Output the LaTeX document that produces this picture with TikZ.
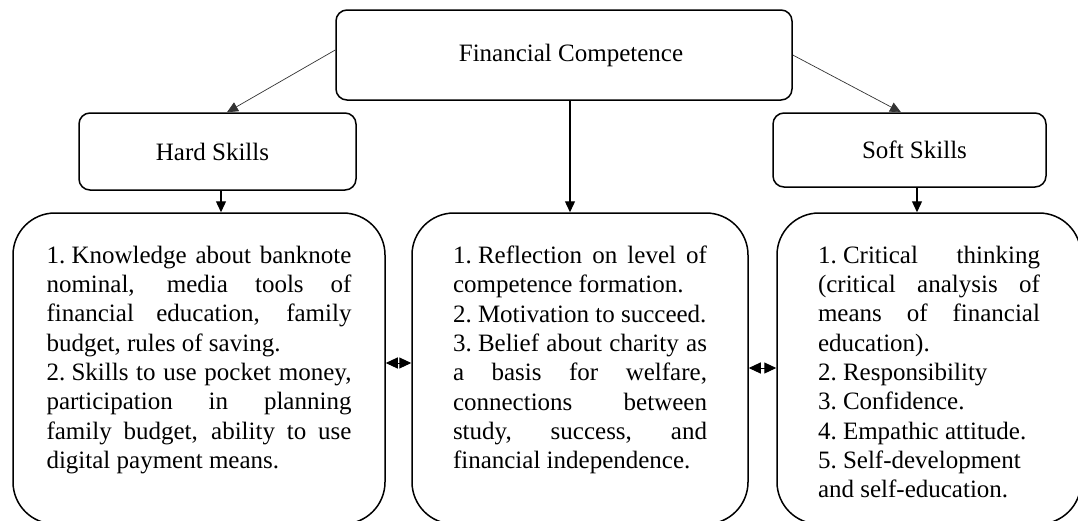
\documentclass[tikz,border=0pt]{standalone}
\usepackage{fontspec}
\setmainfont{Liberation Serif}
\usetikzlibrary{arrows.meta}
\newcommand\jl[1]{\makebox[\linewidth][s]{#1}\\}
\newcommand\nsp{\hspace{0.25em}}
\begin{document}
\begin{tikzpicture}[x=1pt,y=-1pt,
  txt/.style={font=\fontsize{25}{29.3}\selectfont},
  box/.style={draw, line width=1.5pt, rounded corners=11pt, inner sep=0pt, txt},
  bigbox/.style={draw, line width=1.5pt, rounded corners=42pt, inner sep=0pt, minimum height=311pt, txt},
  tip/.style={-{Triangle[length=11pt,width=10pt]}, line width=1.3pt},
  thin/.style={-{Triangle[length=11pt,width=10pt]}, line width=0.7pt, black!80},
  dbl/.style={{Triangle[length=12pt,width=11pt]}-{Triangle[length=12pt,width=11pt]}, line width=1pt},
]
\useasboundingbox (0,0) rectangle (1078,520);
\clip (0,0) rectangle (1078,520);

\node[box, minimum width=456pt, minimum height=90pt] (fc) at (564,55) {\hspace*{14pt}Financial Competence};
\node[box, minimum width=277pt, minimum height=77pt] (hs) at (217.5,151.5) {Hard Skills\hspace*{10pt}};
\node[box, minimum width=273pt, minimum height=74pt] (ss) at (909.5,150) {\hspace*{10pt}Soft Skills};

\node[bigbox, minimum width=372pt] (L) at (199,368.5) {\parbox[c][245pt][t]{305pt}{%
\jl{1.\nsp Knowledge about banknote}
\jl{nominal, media tools of}
\jl{financial education, family}
budget, rules of saving.\\
\jl{2.\nsp Skills to use pocket money,}
\jl{participation in planning}
\jl{family budget, ability to use}
digital payment means.}};

\node[bigbox, minimum width=336pt] (C) at (580,368.5) {\parbox[c][245pt][t]{254pt}{%
\jl{1.\nsp Reflection on level of}
competence formation.\\
2.\nsp Motivation to succeed.\\
\jl{3.\nsp Belief about charity as}
\jl{a basis for welfare,}
\jl{connections between}
\jl{study, success, and}
financial independence.}};

\node[bigbox, minimum width=304pt] (R) at (929,368.5) {\parbox[c][245pt][t]{222pt}{%
\jl{1.\nsp Critical thinking}
\jl{(critical analysis of}
\jl{means of financial}
education).\\
2.\nsp Responsibility\\
3.\nsp Confidence.\\
4.\nsp Empathic attitude.\\
5.\nsp Self-development\\
and self-education.}};

\draw[thin] (fc.west |- 0,50) -- (hs.north -| 227,0);
\draw[thin] (fc.east |- 0,55) -- (ss.north -| 901,0);
\draw[tip] (fc.south -| 570,0) -- (C.north -| 570,0);
\draw[tip] (hs.south -| 221,0) -- (L.north -| 221,0);
\draw[tip] (ss.south -| 917,0) -- (R.north -| 917,0);
\draw[dbl] (L.east |- 0,363) -- (C.west |- 0,363);
\draw[dbl] (C.east |- 0,368) -- (R.west |- 0,368);
\end{tikzpicture}
\end{document}
